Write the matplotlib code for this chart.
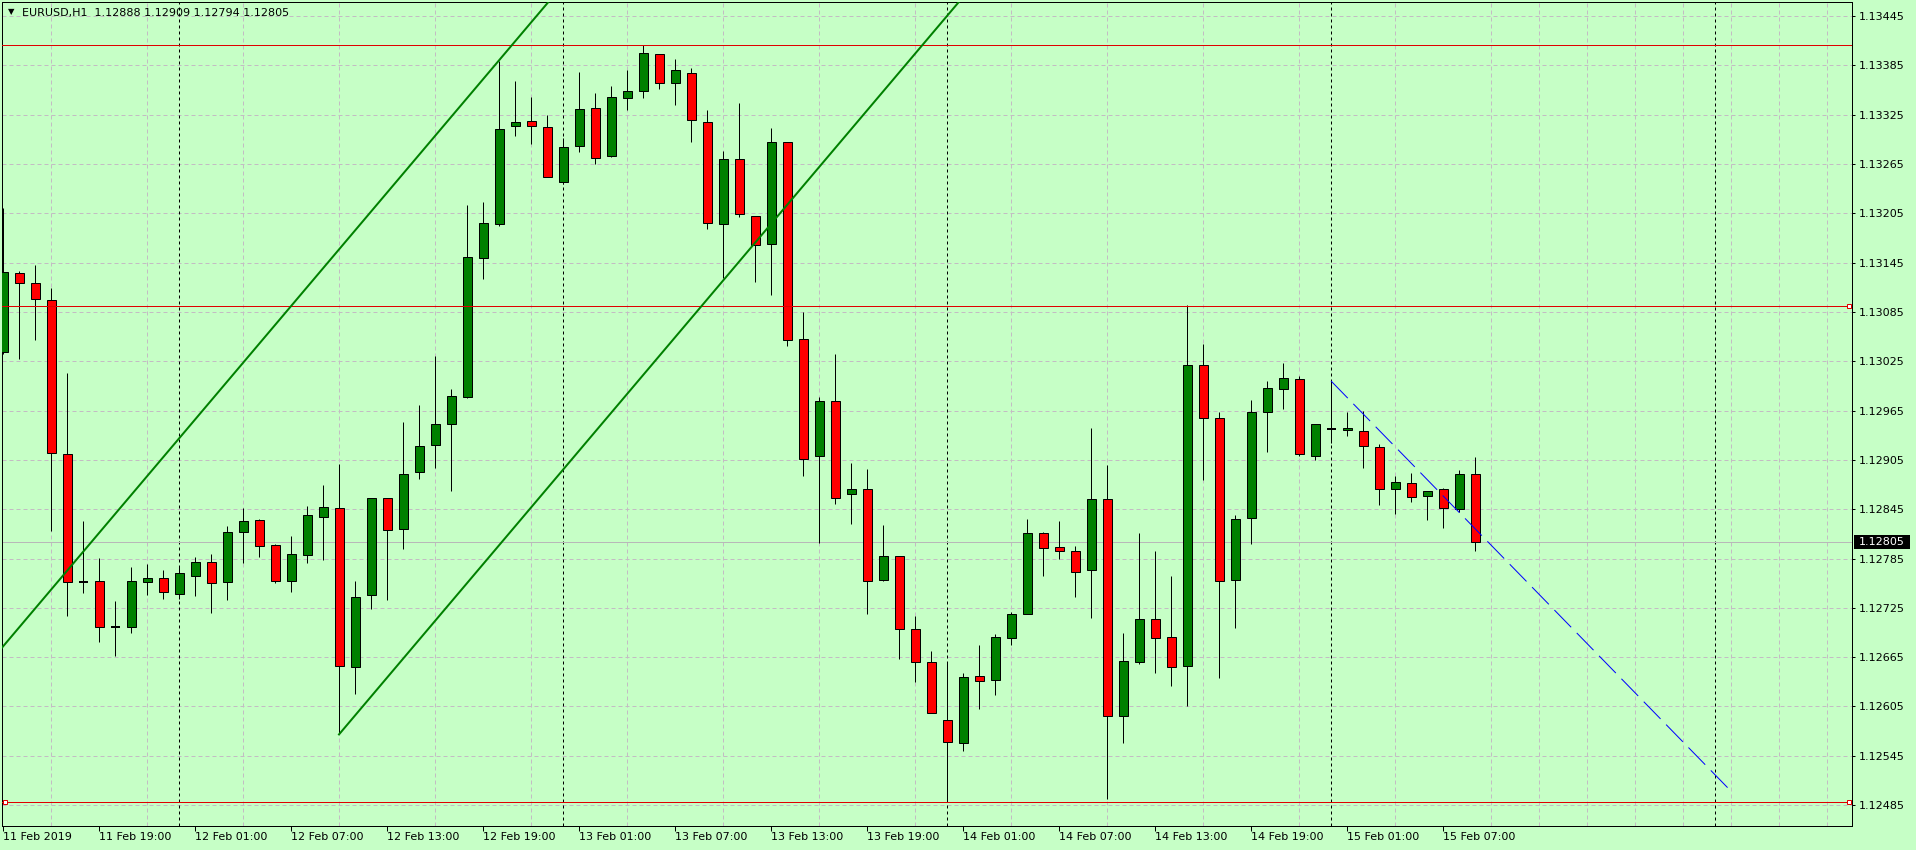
import matplotlib
matplotlib.use("Agg")
import matplotlib.pyplot as plt
from matplotlib.patches import Rectangle

W, H, DPI = 1916, 850, 100
PX = 72 / DPI  # one pixel in points

# EURUSD H1, one bar per hour, first bar 11 Feb 2019 13:00
bar_open = [1.13036, 1.13132, 1.13120, 1.13100, 1.12912, 1.12756, 1.12758, 1.12702, 1.12702, 1.12756,
            1.12761, 1.12742, 1.12764, 1.12781, 1.12756, 1.12817, 1.12832, 1.12801, 1.12758, 1.12789,
            1.12835, 1.12846, 1.12653, 1.12741, 1.12859, 1.12821, 1.12890, 1.12923, 1.12949, 1.12981,
            1.13151, 1.13192, 1.13311, 1.13317, 1.13310, 1.13243, 1.13287, 1.13333, 1.13275, 1.13345,
            1.13354, 1.13399, 1.13363, 1.13376, 1.13316, 1.13192, 1.13271, 1.13202, 1.13168, 1.13292,
            1.13052, 1.12910, 1.12977, 1.12863, 1.12869, 1.12759, 1.12788, 1.12699, 1.12659, 1.12589,
            1.12561, 1.12642, 1.12637, 1.12688, 1.12717, 1.12816, 1.12799, 1.12794, 1.12771, 1.12857,
            1.12593, 1.12659, 1.12711, 1.12690, 1.12654, 1.13020, 1.12956, 1.12759, 1.12834, 1.12963,
            1.12991, 1.13003, 1.12910, 1.12943, 1.12941, 1.12940, 1.12921, 1.12869, 1.12877, 1.12861,
            1.12869, 1.12845, 1.12888]
bar_high = [1.13211, 1.13135, 1.13142, 1.13114, 1.13011, 1.12831, 1.12786, 1.12733, 1.12775, 1.12778,
            1.12771, 1.12775, 1.12787, 1.12790, 1.12824, 1.12846, 1.12833, 1.12803, 1.12812, 1.12849,
            1.12874, 1.12900, 1.12758, 1.12859, 1.12859, 1.12951, 1.12972, 1.13031, 1.12991, 1.13215,
            1.13219, 1.13390, 1.13366, 1.13346, 1.13325, 1.13297, 1.13377, 1.13351, 1.13360, 1.13379,
            1.13410, 1.13399, 1.13393, 1.13382, 1.13331, 1.13281, 1.13339, 1.13202, 1.13309, 1.13292,
            1.13085, 1.12981, 1.13034, 1.12901, 1.12894, 1.12826, 1.12788, 1.12715, 1.12673, 1.12659,
            1.12646, 1.12680, 1.12693, 1.12720, 1.12833, 1.12817, 1.12831, 1.12800, 1.12944, 1.12899,
            1.12694, 1.12816, 1.12794, 1.12764, 1.13093, 1.13046, 1.12963, 1.12838, 1.12978, 1.13001,
            1.13023, 1.13007, 1.12949, 1.13001, 1.12963, 1.12964, 1.12924, 1.12885, 1.12889, 1.12867,
            1.12871, 1.12893, 1.12909]
bar_low = [1.13034, 1.13028, 1.13051, 1.12818, 1.12715, 1.12743, 1.12683, 1.12666, 1.12694, 1.12741,
           1.12736, 1.12736, 1.12739, 1.12719, 1.12734, 1.12779, 1.12787, 1.12755, 1.12744, 1.12779,
           1.12783, 1.12571, 1.12620, 1.12724, 1.12734, 1.12797, 1.12882, 1.12895, 1.12867, 1.12980,
           1.13125, 1.13190, 1.13299, 1.13289, 1.13249, 1.13241, 1.13280, 1.13265, 1.13273, 1.13331,
           1.13345, 1.13356, 1.13337, 1.13292, 1.13186, 1.13126, 1.13200, 1.13121, 1.13106, 1.13043,
           1.12885, 1.12804, 1.12851, 1.12827, 1.12717, 1.12758, 1.12663, 1.12635, 1.12597, 1.12489,
           1.12551, 1.12602, 1.12619, 1.12680, 1.12717, 1.12764, 1.12784, 1.12738, 1.12713, 1.12492,
           1.12561, 1.12657, 1.12646, 1.12630, 1.12606, 1.12881, 1.12640, 1.12700, 1.12803, 1.12915,
           1.12967, 1.12910, 1.12905, 1.12926, 1.12934, 1.12895, 1.12850, 1.12839, 1.12854, 1.12832,
           1.12822, 1.12842, 1.12794]
bar_close = [1.13134, 1.13120, 1.13101, 1.12913, 1.12756, 1.12756, 1.12702, 1.12702, 1.12758, 1.12761,
             1.12744, 1.12767, 1.12781, 1.12755, 1.12817, 1.12831, 1.12800, 1.12758, 1.12790, 1.12838,
             1.12848, 1.12654, 1.12738, 1.12859, 1.12820, 1.12888, 1.12922, 1.12949, 1.12983, 1.13152,
             1.13193, 1.13308, 1.13316, 1.13311, 1.13249, 1.13286, 1.13332, 1.13272, 1.13346, 1.13354,
             1.13400, 1.13363, 1.13379, 1.13318, 1.13193, 1.13271, 1.13204, 1.13166, 1.13292, 1.13051,
             1.12906, 1.12977, 1.12859, 1.12869, 1.12758, 1.12788, 1.12699, 1.12659, 1.12597, 1.12562,
             1.12641, 1.12636, 1.12690, 1.12717, 1.12816, 1.12798, 1.12794, 1.12769, 1.12857, 1.12593,
             1.12660, 1.12711, 1.12688, 1.12653, 1.13020, 1.12956, 1.12758, 1.12833, 1.12963, 1.12992,
             1.13005, 1.12912, 1.12949, 1.12943, 1.12944, 1.12922, 1.12869, 1.12878, 1.12860, 1.12867,
             1.12846, 1.12888, 1.12805]

# time axis (bar index), one label every 6 bars
time_tick_pos = [0, 6, 12, 18, 24, 30, 36, 42, 48, 54, 60, 66, 72, 78, 84, 90]
time_tick_labels = ["11 Feb 2019", "11 Feb 19:00", "12 Feb 01:00", "12 Feb 07:00",
                    "12 Feb 13:00", "12 Feb 19:00", "13 Feb 01:00", "13 Feb 07:00",
                    "13 Feb 13:00", "13 Feb 19:00", "14 Feb 01:00", "14 Feb 07:00",
                    "14 Feb 13:00", "14 Feb 19:00", "15 Feb 01:00", "15 Feb 07:00"]
day_separators = [11, 35, 59, 83, 107]
price_ticks = [1.12485, 1.12545, 1.12605, 1.12665, 1.12725, 1.12785, 1.12845, 1.12905, 1.12965,
               1.13025, 1.13085, 1.13145, 1.13205, 1.13265, 1.13325, 1.13385, 1.13445]

# objects drawn on the chart
red_levels = [1.13410, 1.13092, 1.12489]
channel_low = [(21, 1.12571), (50, 1.13238)]
channel_high = [(0, 1.12678), (29, 1.13345)]
down_line = [(83, 1.13001), (108, 1.12502)]
bid = 1.12805

BG = "#c6ffc6"
BULL, BEAR = "#008000", "#ff0000"
plt.rcParams["font.family"] = "DejaVu Sans"
plt.rcParams["font.size"] = 8

fig = plt.figure(figsize=(W / DPI, H / DPI), dpi=DPI, facecolor=BG)
ax = fig.add_axes([2 / W, 24 / H, 1850 / W, 824 / H], facecolor=BG)
xmin, xmax = -1 / 16, 1849 / 16
ax.set_xlim(xmin, xmax)
ax.set_ylim(1.124596, 1.134620)

# grid
ax.set_xticks(range(0, 116, 3), minor=True)
ax.set_xticks(time_tick_pos, time_tick_labels)
ax.set_yticks(price_ticks, [f"{p:.5f}" for p in price_ticks])
ax.xaxis.grid(True, which="minor", color="#c3bcc3", lw=PX, ls=(0, (4, 3)))
ax.xaxis.grid(False, which="major")
ax.yaxis.grid(True, which="major", color="#c3bcc3", lw=PX, ls=(0, (4, 3)))
ax.set_axisbelow(True)
ax.yaxis.tick_right()
ax.tick_params(axis="y", direction="out", length=3 * PX, width=PX, pad=3.5 * PX, labelsize=8)
ax.tick_params(axis="x", which="major", direction="out", length=5 * PX, width=PX, pad=1, labelsize=8)
ax.tick_params(axis="x", which="minor", length=0)
for lbl in ax.get_xticklabels():
    lbl.set_horizontalalignment("left")
for s in ax.spines.values():
    s.set_linewidth(PX)
    s.set_color("black")

# day separators and bid line
for d in day_separators:
    ax.axvline(d, color="black", lw=PX, ls=(0, (3, 3)), zorder=1)
ax.axhline(bid, color="#b8b8b8", lw=PX, zorder=1)

# candles
bw = 9 / 16
for i, (o, h, l, c) in enumerate(zip(bar_open, bar_high, bar_low, bar_close)):
    ax.plot([i, i], [l, h], color="black", lw=PX, zorder=3, solid_capstyle="butt")
    if c == o:
        ax.plot([i - bw / 2, i + bw / 2], [o, o], color="black", lw=2 * PX, zorder=4,
                solid_capstyle="butt")
        continue
    col = BULL if c > o else BEAR
    ax.add_patch(Rectangle((i - bw / 2, min(o, c)), bw, abs(c - o), facecolor=col,
                           edgecolor="black", lw=PX, zorder=4))

# horizontal red levels with selection squares
for lv in red_levels:
    ax.axhline(lv, color="#e00000", lw=PX, zorder=5)
yax = ax.get_yaxis_transform()
sq = dict(marker="s", ms=4 * PX, mfc="white", mec="#e00000", mew=PX, ls="none", zorder=6,
          transform=yax, clip_on=False)
ax.plot([1 - 3 / 1850], [red_levels[1]], **sq)
ax.plot([3 / 1850, 1 - 3 / 1850], [red_levels[2], red_levels[2]], **sq)

# channel lines
(x0, y0), (x1, y1) = channel_low
k = (y1 - y0) / (x1 - x0)
ax.plot([x0, xmax], [y0, y0 + k * (xmax - x0)], color="#008000", lw=2 * PX, zorder=5)
(x0, y0), (x1, y1) = channel_high
k = (y1 - y0) / (x1 - x0)
ax.plot([xmin, xmax], [y0 + k * (xmin - x0), y0 + k * (xmax - x0)], color="#008000",
        lw=2 * PX, zorder=5)

# dashed down trend line
ax.plot([p[0] for p in down_line], [p[1] for p in down_line], color="#0000ff", lw=PX,
        ls=(0, (24, 8)), zorder=5)

# current price label
fig.canvas.draw()
ypix = ax.transData.transform((0, bid))[1]
fig.patches.append(Rectangle((1854, ypix - 7), 56, 14, transform=None, facecolor="black",
                             edgecolor="none"))
fig.text(1859 / W, ypix / H, f"{bid:.5f}", color="white", va="center", ha="left", fontsize=8)

# title
last = (bar_open[-1], bar_high[-1], bar_low[-1], bar_close[-1])
fig.text(11 / W, 1 - 12 / H, "\u25bc", fontsize=6, ha="center", va="center")
fig.text(22 / W, 1 - 13 / H, "EURUSD,H1  " + " ".join(f"{v:.5f}" for v in last),
         fontsize=8, ha="left", va="center")

fig.savefig("out.png", dpi=DPI, facecolor=BG)
